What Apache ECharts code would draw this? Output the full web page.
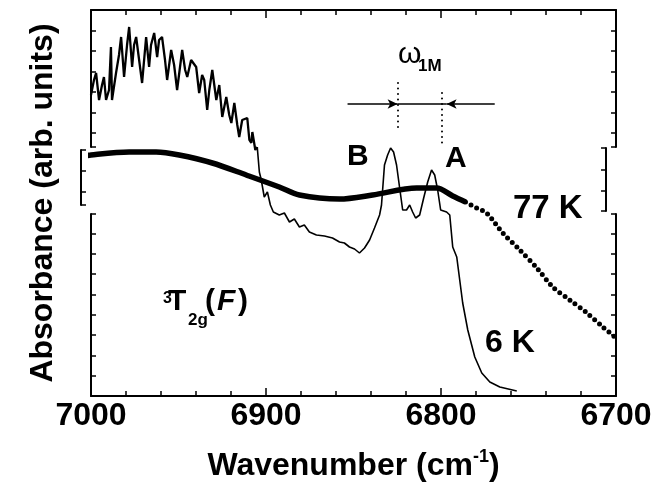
<!DOCTYPE html>
<html><head><meta charset="utf-8">
<script src="https://cdn.jsdelivr.net/npm/echarts@6/dist/echarts.min.js"></script>
<style>html,body{margin:0;padding:0;background:#fff}#c{width:654px;height:483px}</style>
</head><body><div id="c"></div>
<script>
// axis
const xTicks = [7000, 6900, 6800, 6700];
// 6 K spectrum: noisy high-energy part
const wn6Knoisy = [7000, 6998.3, 6997.1, 6995.4, 6993.7, 6992.6, 6991.4, 6989.7, 6988.6, 6988.0,
  6985.7, 6984.0, 6982.8, 6981.1, 6979.4, 6978.2, 6976.5, 6975.4, 6974.2, 6972.5,
  6970.8, 6968.5, 6966.8, 6965.7, 6963.9, 6962.2, 6961.1, 6959.4, 6957.7, 6956.5,
  6954.2, 6952.5, 6950.8, 6947.9, 6946.2, 6945.0, 6942.8, 6939.9, 6938.2, 6936.5,
  6935.3, 6933.6, 6932.4, 6930.7, 6928.4, 6926.7, 6925.0, 6922.7, 6921.0, 6919.8,
  6918.1, 6916.4, 6915.3, 6913.6, 6910.7, 6909.5, 6908.4, 6907.8, 6906.1, 6905.0];
const abs6Knoisy = [301, 316, 323, 296, 311, 319, 296, 306, 349, 296,
  323, 341, 359, 319, 351, 369, 329, 351, 359, 336,
  313, 359, 329, 351, 363, 339, 356, 359, 336, 316,
  346, 331, 306, 346, 326, 319, 336, 329, 303, 321,
  316, 286, 306, 326, 296, 311, 279, 299, 281, 273,
  293, 271, 259, 276, 278, 256, 253, 264, 246, 249];
// 6 K spectrum: lower-energy part (B, A lines and edge)
const wn6K = [6905.0,
  6903.8, 6902.7, 6901.0, 6899.2, 6897.5, 6895.8, 6892.4, 6889.5, 6886.6, 6883.8,
  6880.9, 6878.1, 6875.2, 6871.2, 6866.6, 6862.0, 6858.0, 6855.2, 6852.3, 6849.4,
  6846.6, 6843.7, 6840.8, 6838.0, 6835.1, 6834.0, 6832.3, 6830.5, 6828.8, 6827.1,
  6825.4, 6823.7, 6821.9, 6819.7, 6817.9, 6816.2, 6814.5, 6812.2, 6809.9, 6807.6,
  6805.4, 6803.6, 6801.9, 6800.2, 6796.8, 6795.0, 6793.3, 6791.0, 6789.3, 6787.6,
  6784.7, 6780.7, 6776.7, 6772.1, 6766.4, 6756.7];
const abs6K = [249,
  224, 216, 199, 204, 191, 184, 181, 183, 174, 177,
  169, 171, 164, 161, 160, 158, 154, 153, 149, 147,
  143, 148, 156, 168, 181, 191, 231, 241, 248, 244,
  231, 209, 186, 186, 191, 184, 178, 181, 198, 214,
  226, 221, 206, 186, 184, 181, 149, 139, 116, 93,
  66, 39, 23, 14, 9, 5];
// 77 K spectrum (dense part and resolved dots part)
const wn77Kdense = [7006.9, 7000, 6978.2, 6962.8, 6949.6, 6930.7, 6911.3, 6892.4, 6880.9, 6858.0, 6839.1, 6813.9, 6802.5, 6793.3, 6786.0];
const abs77Kdense = [239, 241, 244, 244, 241, 233, 221, 209, 201, 197, 201, 208, 208, 200, 194];
const wn77Kdots = [6786.0, 6779.6, 6773.9, 6764.7, 6755.0, 6745.2, 6736.1, 6726.4, 6716.6, 6707.5, 6700];
const abs77Kdots = [194, 188, 183, 163, 146, 128, 109, 96, 83, 69, 58];
// omega_1M annotation
const omegaArrowY = 292;
const omegaArrowX = [6853.4, 6824.8, 6796.8, 6769.3];
const omegaDotLines = [[6824.8, 313, 268], [6799.6, 303, 249]];

const FONT = 'Liberation Sans, Arial, sans-serif';
const zip = (a, b) => a.map((v, i) => [v, b[i]]);

const chart = echarts.init(document.getElementById('c'), null, {renderer: 'canvas'});
const frame = {show: true, onZero: false, lineStyle: {color: '#000', width: 2}};
const yTick = {show: true, inside: true, length: 5, lineStyle: {color: '#000', width: 1.5}};
const xTick = {show: true, inside: true, length: 8, lineStyle: {color: '#000', width: 1.5}};
const xMinor = {show: true, splitNumber: 5, length: 5, lineStyle: {color: '#000', width: 1.5}};
const hiddenX = i => ({type: 'value', gridIndex: i, show: false, min: 0, max: 1, axisLine: {onZero: false}});
const fy = (grid, pos, min, max, interval, inverse) => ({
  type: 'value', gridIndex: grid, position: pos, min: min, max: max, interval: interval, inverse: inverse,
  axisLine: frame, axisTick: yTick, axisLabel: {show: false}, splitLine: {show: false}
});
const g = (o) => Object.assign({containLabel: false, outerBoundsMode: 'none'}, o);

const option = {
  animation: false,
  grid: [
    g({left: 91, right: 38, top: 10, bottom: 87}),
    g({left: 91, right: 38, top: 10, height: 137}),
    g({left: 81, right: 48, top: 150, height: 55}),
    g({left: 91, right: 38, top: 214, bottom: 87}),
    g({left: 81, right: 48, top: 148, height: 63})
  ],
  xAxis: [
    {type: 'value', gridIndex: 0, position: 'bottom', inverse: true, min: xTicks[3], max: xTicks[0], interval: 100,
     axisLine: frame, axisTick: xTick, minorTick: xMinor,
     axisLabel: {color: '#000', fontFamily: FONT, fontWeight: 'bold', fontSize: 32, margin: 4, formatter: v => String(v)},
     splitLine: {show: false},
     name: 'Wavenumber (cm{sup|-1})', nameLocation: 'middle', nameGap: 52,
     nameTextStyle: {color: '#000', fontFamily: FONT, fontWeight: 'bold', fontSize: 32, lineHeight: 36,
       rich: {sup: {fontFamily: FONT, fontWeight: 'bold', fontSize: 18, verticalAlign: 'top', lineHeight: 36, color: '#000'}}}},
    {type: 'value', gridIndex: 1, position: 'top', inverse: true, min: xTicks[3], max: xTicks[0], interval: 100,
     axisLine: frame, axisTick: xTick, minorTick: xMinor,
     axisLabel: {show: false}, splitLine: {show: false}},
    hiddenX(2), hiddenX(3), hiddenX(4)
  ],
  yAxis: [
    {type: 'value', gridIndex: 0, min: 0, max: 386, axisLine: {show: false, onZero: false}, axisTick: {show: false},
     axisLabel: {show: false}, splitLine: {show: false},
     name: 'Absorbance (arb. units)', nameLocation: 'middle', nameGap: 32,
     nameTextStyle: {color: '#000', fontFamily: FONT, fontWeight: 'bold', fontSize: 32}},
    fy(1, 'left', 0, 137, 20.5, true),
    fy(1, 'right', 0, 137, 20.5, true),
    fy(2, 'left', 0, 55, 21, true),
    fy(3, 'left', 0, 182, 20.3, false),
    fy(3, 'right', 0, 182, 20.3, false),
    fy(4, 'right', 0, 63, 21.5, true)
  ],
  series: [
    {name: '6 K noisy', type: 'line', xAxisIndex: 0, yAxisIndex: 0, data: zip(wn6Knoisy, abs6Knoisy), showSymbol: false,
     lineStyle: {color: '#000', width: 2.3}, z: 3},
    {name: '6 K', type: 'line', xAxisIndex: 0, yAxisIndex: 0, data: zip(wn6K, abs6K), showSymbol: false,
     lineStyle: {color: '#000', width: 1.6}, z: 3,
     markLine: {silent: true, animation: false, label: {show: false}, symbol: ['none', 'none'],
       lineStyle: {color: '#000', width: 1.5, type: 'solid'},
       data: [
         [{coord: [omegaArrowX[0], omegaArrowY], symbol: 'none'}, {coord: [omegaArrowX[1], omegaArrowY], symbol: 'arrow', symbolSize: [7, 10]}],
         [{coord: [omegaArrowX[1], omegaArrowY], symbol: 'none'}, {coord: [omegaArrowX[2], omegaArrowY], symbol: 'none'}],
         [{coord: [omegaArrowX[3], omegaArrowY], symbol: 'none'}, {coord: [omegaArrowX[2], omegaArrowY], symbol: 'arrow', symbolSize: [7, 10]}]
       ]}},
    {name: '77 K', type: 'line', xAxisIndex: 0, yAxisIndex: 0, data: zip(wn77Kdense, abs77Kdense), showSymbol: false,
     smooth: 0.3, clip: false, lineStyle: {color: '#000', width: 5.5}, z: 2,
     markLine: {silent: true, animation: false, label: {show: false}, symbol: ['none', 'none'],
       lineStyle: {color: '#000', width: 2, type: [0, 5.5], cap: 'round'},
       data: omegaDotLines.map(d => [{coord: [d[0], d[1]]}, {coord: [d[0], d[2]]}])}},
    {name: '77 K dots', type: 'line', xAxisIndex: 0, yAxisIndex: 0, data: zip(wn77Kdots, abs77Kdots), showSymbol: false,
     smooth: 0.3, lineStyle: {color: '#000', width: 5, type: [0, 6.3], cap: 'round'}, z: 2}
  ],
  graphic: [
    {type: 'text', left: 398, top: 40, style: {text: 'ω', font: '30px ' + FONT, fill: '#000'}},
    {type: 'text', left: 418, top: 58, style: {text: '1M', font: 'bold 17px ' + FONT, fill: '#000'}},
    {type: 'text', left: 347, top: 142, style: {text: 'B', font: 'bold 30px ' + FONT, fill: '#000'}},
    {type: 'text', left: 445, top: 144, style: {text: 'A', font: 'bold 30px ' + FONT, fill: '#000'}},
    {type: 'text', left: 513, top: 192, style: {text: '77 K', font: 'bold 33px ' + FONT, fill: '#000'}},
    {type: 'text', left: 485, top: 327, style: {text: '6 K', font: 'bold 32px ' + FONT, fill: '#000'}},
    {type: 'text', left: 163, top: 291, style: {text: '3', font: 'bold 16px ' + FONT, fill: '#000'}},
    {type: 'text', left: 168, top: 287, style: {text: 'T', font: 'bold 30px ' + FONT, fill: '#000'}},
    {type: 'text', left: 188, top: 312, style: {text: '2g', font: 'bold 17px ' + FONT, fill: '#000'}},
    {type: 'text', left: 205, top: 287, style: {text: '(', font: 'bold 30px ' + FONT, fill: '#000'}},
    {type: 'text', left: 217, top: 287, style: {text: 'F', font: 'italic bold 30px ' + FONT, fill: '#000'}},
    {type: 'text', left: 238, top: 287, style: {text: ')', font: 'bold 30px ' + FONT, fill: '#000'}}
  ]
};
chart.setOption(option);
</script>
</body></html>
